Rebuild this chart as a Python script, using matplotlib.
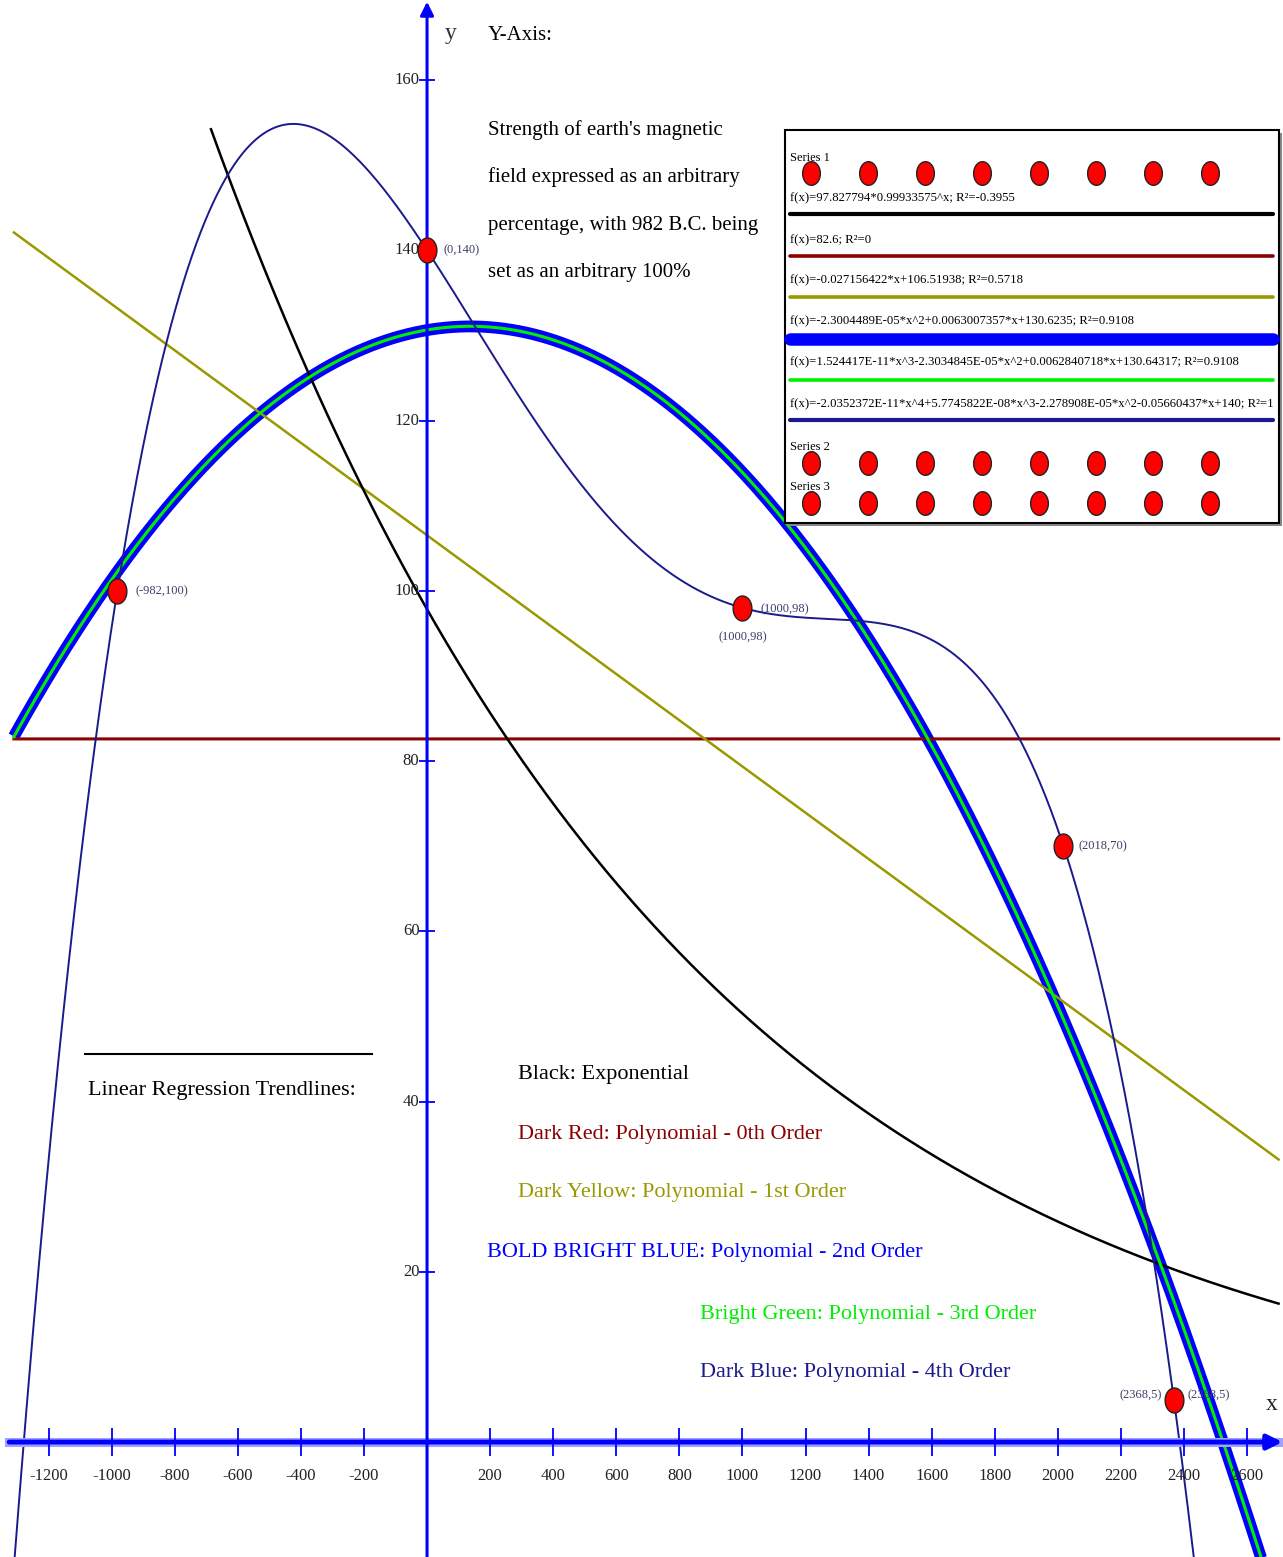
import numpy as np
import matplotlib.pyplot as plt
from matplotlib.path import Path
from matplotlib.patches import Rectangle

plt.rcParams['font.family'] = ['Liberation Serif', 'DejaVu Serif']

# data points
point_x = [-982, 0, 1000, 2018, 2368]
point_y = [100, 140, 98, 70, 5]

# trendline coefficients as printed in the legend
exp_coef = [97.827794, 0.99933575]
poly0 = [82.6]
poly1 = [-0.027156422, 106.51938]
poly2 = [-2.3004489e-05, 0.0063007357, 130.6235]
poly3 = [1.524417e-11, -2.3034845e-05, 0.0062840718, 130.64317]
poly4 = [-2.0352372e-11, 5.7745822e-08, -2.278908e-05, -0.05660437, 140]

x_ticks = [-1200, -1000, -800, -600, -400, -200, 200, 400, 600, 800, 1000,
           1200, 1400, 1600, 1800, 2000, 2200, 2400, 2600]
y_ticks = [20, 40, 60, 80, 100, 120, 140, 160]

legend_rows = [
    'f(x)=97.827794*0.99933575^x; R²=-0.3955',
    'f(x)=82.6; R²=0',
    'f(x)=-0.027156422*x+106.51938; R²=0.5718',
    'f(x)=-2.3004489E-05*x^2+0.0063007357*x+130.6235; R²=0.9108',
    'f(x)=1.524417E-11*x^3-2.3034845E-05*x^2+0.0062840718*x+130.64317; R²=0.9108',
    'f(x)=-2.0352372E-11*x^4+5.7745822E-08*x^3-2.278908E-05*x^2-0.05660437*x+140; R²=1',
]

key_texts = [
    'Black: Exponential',
    'Dark Red: Polynomial - 0th Order',
    'Dark Yellow: Polynomial - 1st Order',
    'BOLD BRIGHT BLUE: Polynomial - 2nd Order',
    'Bright Green: Polynomial - 3rd Order',
    'Dark Blue: Polynomial - 4th Order',
]

c_exp, c_p0, c_p1, c_p2, c_p3, c_p4 = 'black', '#8b0000', '#999900', '#0000ff', '#00ee00', '#1a1a8c'
line_colors = [c_exp, c_p0, c_p1, c_p2, c_p3, c_p4]
label_col = '#3a3f66'

W, H = 1283, 1557
fig = plt.figure(figsize=(W / 100, H / 100), dpi=100)
ax = fig.add_axes([0, 0, 1, 1])
ax.set_xlim(-1354, 2714)
ax.set_ylim(-13.5, 169.4)
ax.axis('off')

# trendlines
xs = np.linspace(-1310, 2700, 1200)
xe = np.linspace(-685, 2700, 800)
ax.plot(xs, np.polyval(poly2, xs), color=c_p2, lw=8.5, solid_capstyle='butt', zorder=2)
ax.plot(xs, np.polyval(poly3, xs), color=c_p3, lw=2.2, zorder=3)
ax.plot(xs, np.polyval(poly0, xs), color=c_p0, lw=2.2, zorder=2)
ax.plot(xs, np.polyval(poly1, xs), color=c_p1, lw=1.8, zorder=2)
ax.plot(xe, exp_coef[0] * exp_coef[1] ** xe, color=c_exp, lw=1.8, zorder=2)
ax.plot(xs, np.polyval(poly4, xs), color=c_p4, lw=1.4, zorder=3)

# axes with arrows
ax.plot([-1325, 2700], [0, 0], color='#a0a0ff', lw=6.5, zorder=4)
ax.annotate('', xy=(2712, 0), xytext=(-1325, 0),
            arrowprops=dict(arrowstyle='-|>', color='#0000ff', lw=3.5,
                            mutation_scale=22, shrinkA=0, shrinkB=0), zorder=5)
ax.annotate('', xy=(0, 169.2), xytext=(0, -13.5),
            arrowprops=dict(arrowstyle='-|>', color='#0000ff', lw=2.2,
                            mutation_scale=20, shrinkA=0, shrinkB=0), zorder=5)
ax.vlines(x_ticks, -1.6, 1.6, color='#0000ff', lw=1.3, zorder=5)
ax.hlines(y_ticks, -26, 26, color='#0000ff', lw=1.3, zorder=5)
for t in x_ticks:
    ax.text(t, -4.0, str(t), ha='center', va='center', fontsize=12, color='#222222')
for t in y_ticks:
    ax.text(-24, t, str(t), ha='right', va='center', fontsize=12, color='#222222')

# oval markers like the original
th = np.linspace(0, 2 * np.pi, 60)
oval = Path(np.column_stack([0.75 * np.cos(th), np.sin(th)]), closed=True)
ax.plot(point_x, point_y, ls='none', marker=oval, ms=18, mfc='red', mec='#222222',
        mew=1.0, zorder=6)

pt_labels = [('(-982,100)', -982, 100, 13, 0, 'left'),
             ('(0,140)', 0, 140, 12, 0, 'left'),
             ('(1000,98)', 1000, 98, 13, -1, 'left'),
             ('(1000,98)', 1000, 98, 0, -21, 'center'),
             ('(2018,70)', 2018, 70, 11, 0, 'left'),
             ('(2368,5)', 2368, 5, -9, 3, 'right'),
             ('(2368,5)', 2368, 5, 10, 3, 'left')]
for txt, px, py, dx, dy, ha in pt_labels:
    ax.annotate(txt, (px, py), xytext=(dx, dy), textcoords='offset points',
                ha=ha, va='center', fontsize=9, color=label_col, zorder=7)

# overlay in pixel coordinates for the free text and the legend box
ov = fig.add_axes([0, 0, 1, 1], facecolor='none')
ov.set_xlim(0, W)
ov.set_ylim(H, 0)
ov.axis('off')

ov.text(445, 33, 'y', fontsize=17, va='center', color='#333333')
ov.text(1272, 1405, 'x', fontsize=17, va='center', ha='center', color='#222222')
ov.text(488, 35, 'Y-Axis:', fontsize=15, va='center')
para = ["Strength of earth's magnetic", 'field expressed as an arbitrary',
        'percentage, with 982 B.C. being', 'set as an arbitrary 100%']
for i, s in enumerate(para):
    ov.text(488, 130 + 47.5 * i, s, fontsize=15, va='center')

ov.plot([85, 372], [1054, 1054], color='black', lw=1.5)
ov.text(88, 1090, 'Linear Regression Trendlines:', fontsize=16, va='center')

key_pos = [(518, 1075), (518, 1135), (518, 1192), (487, 1252), (700, 1315), (700, 1372)]
for (kx, ky), s, c in zip(key_pos, key_texts, line_colors):
    ov.text(kx, ky, s, fontsize=16, va='center', color=c)

# legend box
ov.add_patch(Rectangle((788, 133), 494, 393, facecolor='#888888', edgecolor='none', zorder=8))
ov.add_patch(Rectangle((785, 130), 494, 393, facecolor='white', edgecolor='black', lw=1.5, zorder=9))
dot_x = [811 + 57 * k for k in range(8)]
for name, ty, dy in [('Series 1', 158, 173), ('Series 2', 447, 463), ('Series 3', 487, 503)]:
    ov.text(790, ty, name, fontsize=9, va='center', zorder=10)
    ov.plot(dot_x, [dy] * len(dot_x), ls='none', marker=oval, ms=17, mfc='red',
            mec='#222222', mew=1.0, zorder=11)
row_text_y = [198, 240, 280, 321, 362, 404]
row_line_y = [214, 256, 297, 339, 380, 420]
row_lw = [3.0, 2.6, 2.6, 9.0, 2.6, 3.0]
for s, c, ty, ly, lw in zip(legend_rows, line_colors, row_text_y, row_line_y, row_lw):
    ov.text(790, ty, s, fontsize=9.2, va='center', zorder=10)
    ov.plot([790, 1273], [ly, ly], color=c, lw=lw, solid_capstyle='round', zorder=10)

fig.savefig('out.png', dpi=100)
